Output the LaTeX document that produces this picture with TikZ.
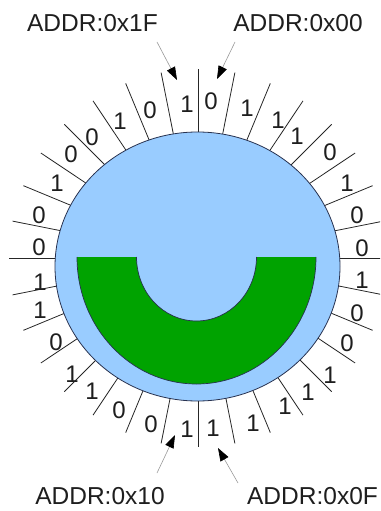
\documentclass[tikz,border=0pt]{standalone}
\usepackage{fontspec}
\setmainfont{Liberation Sans}
\usetikzlibrary{arrows.meta}
\definecolor{discblue}{RGB}{153,204,255}
\definecolor{ringgreen}{RGB}{0,163,0}
\definecolor{rimline}{RGB}{40,50,80}
\definecolor{inktext}{RGB}{30,30,30}
\tikzset{
  sector/.style={line width=0.8bp, black!85},
  bit/.style={inner sep=0pt, text=inktext, font=\fontsize{24bp}{28bp}\selectfont},
  addr/.style={inner sep=0pt, text=inktext, font=\fontsize{24.5bp}{28bp}\selectfont},
  pointer/.style={line width=0.6bp, black!40, -{Triangle[length=13bp,width=9bp,color=black]}},
}
\begin{document}
\begin{tikzpicture}[x=1bp,y=-1bp]
\useasboundingbox (0,0) rectangle (380,511);
\clip (0,0) rectangle (380,511);
% sector boundary lines
\coordinate (P) at (198,258);
\foreach \k in {0,...,31} \draw[sector] (P) -- ++(\k*11.25:189);
% disc
\fill[discblue] (197.5,266.5) ellipse [x radius=142.5, y radius=134.5];
\draw[rimline, line width=0.8bp] (197.5,266.5) ellipse [x radius=142.5, y radius=134.5];
% green half ring
\coordinate (G) at (196.5,257);
\fill[ringgreen] ([xshift=-119.5bp]G) arc [start angle=180, end angle=0, x radius=119.5, y radius=127]
  -- ([xshift=60bp]G) arc [start angle=0, end angle=180, x radius=60, y radius=64] -- cycle;
\draw[rimline, line width=0.7bp] ([xshift=-119.5bp]G) arc [start angle=180, end angle=0, x radius=119.5, y radius=127];
\draw[rimline, line width=0.7bp] ([xshift=60bp]G) arc [start angle=0, end angle=180, x radius=60, y radius=64];
% bits
\foreach \n/\x/\y/\d in {
 0/211/101/0, 1/247/108/1, 2/278/120/1, 3/297/136/1, 4/330/152/0, 5/347/183/1, 6/357/215/0, 7/362/248/0,
 8/362/280/1, 9/357/313/0, 10/347/343/0, 11/330/375/1, 12/308/392/1, 13/285/406/1, 14/253/423/1, 15/213/428/1,
 16/187/429/1, 17/151/424/0, 18/119/410/0, 19/92/391/1, 20/72/374/1, 21/56/342/0, 22/40/310/1, 23/40/282/1,
 24/39/247/0, 25/39/215/0, 26/57/183/1, 27/71/154/0, 28/92/137/0, 29/120/121/1, 30/150/110/0, 31/187/104/1}
 \node[bit] (b\n) at (\x,\y) {\d};
% address labels and pointers
\node[addr] (a1F) at (92.5,23) {ADDR:0x1F};
\node[addr] (a00) at (298,23) {ADDR:0x00};
\node[addr] (a10) at (100,496) {ADDR:0x10};
\node[addr] (a0F) at (312.5,496) {ADDR:0x0F};
\coordinate (s1F) at (157,42);  \coordinate (t1F) at (177,80);
\coordinate (s00) at (235,42);  \coordinate (t00) at (217,79);
\coordinate (s10) at (157,473); \coordinate (t10) at (175,435);
\coordinate (s0F) at (238,483); \coordinate (t0F) at (218,448);
\draw[pointer] (s1F) -- (t1F);
\draw[pointer] (s00) -- (t00);
\draw[pointer] (s10) -- (t10);
\draw[pointer] (s0F) -- (t0F);
\end{tikzpicture}
\end{document}
